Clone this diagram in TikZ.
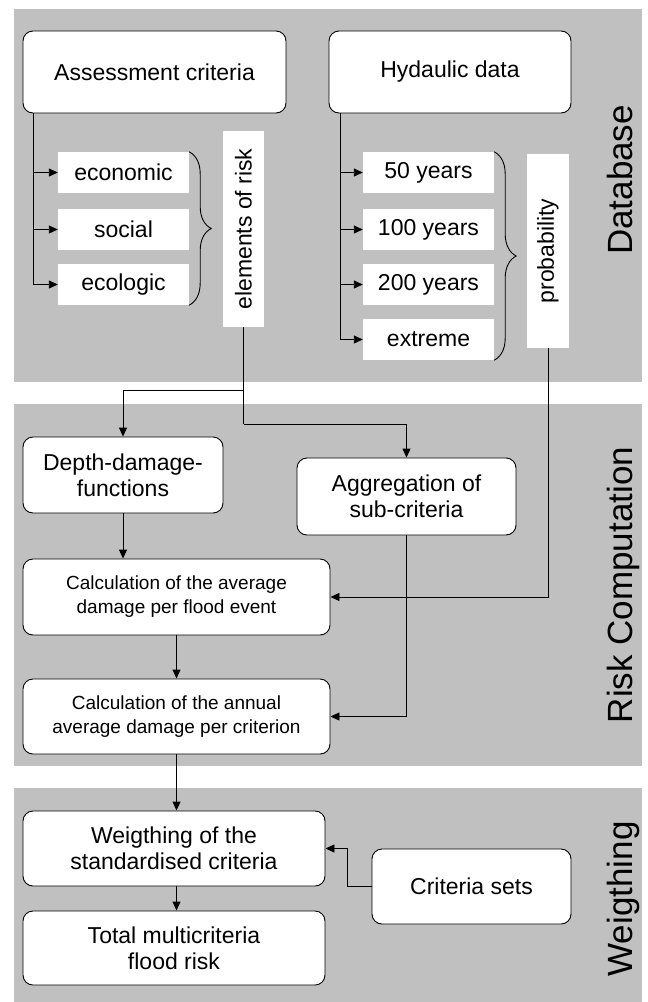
\documentclass[tikz,border=0pt]{standalone}
\usepackage{fontspec}
\setmainfont{Liberation Sans}
\usetikzlibrary{arrows.meta,decorations.pathreplacing}
\definecolor{panelgray}{RGB}{192,192,192}

\begin{document}
\begin{tikzpicture}[
  x=1pt, y=-1pt,
  block/.style={draw, line width=0.9pt, rounded corners=10pt, fill=white, align=center, inner sep=0pt, font=\fontsize{23}{26}\selectfont},
  calcblock/.style={block, font=\fontsize{19}{24}\selectfont},
  item/.style={fill=white, inner sep=0pt, minimum width=131pt, minimum height=41pt, font=\fontsize{23}{26}\selectfont},
  tag/.style={fill=white, inner sep=0pt, rotate=90, font=\fontsize{23}{26}\selectfont},
  stage/.style={rotate=90, anchor=base, font=\fontsize{35}{40}\selectfont},
  arrow/.style={-{Triangle[length=9pt,width=8pt]}, line width=0.9pt},
  brace/.style={decorate, decoration={brace, amplitude=22pt}, line width=0.9pt}
]
\useasboundingbox (0,0) rectangle (648,1002);

% Panels
\fill[panelgray] (14,9) rectangle (642,382);
\fill[panelgray] (14,404) rectangle (642,766);
\fill[panelgray] (14,788) rectangle (642,1002);

\node[stage] (db) at (632,180) {Database};
\node[stage] (rc) at (632,585) {Risk Computation};
\node[stage] (wg) at (632,899) {Weigthing};

% Database
\node[block, minimum width=263pt, minimum height=82pt] (assess) at (154.5,72) {Assessment criteria};
\node[block, minimum width=242pt, minimum height=82pt] (hydro) at (450,72) {Hydaulic data};

\foreach \name/\txt/\y in {econ/economic/172.5, social/social/229.5, ecol/ecologic/284.5}
  \node[item] (\name) at (123.5,\y) {\txt};

\foreach \name/\txt/\y in {y50/50 years/172.5, y100/100 years/229.5, y200/200 years/284.5, extreme/extreme/339.5}
  \node[item] (\name) at (428.5,\y) {\txt};

\node[tag, minimum width=196pt, minimum height=41pt] (elem) at (243.5,229) {elements of risk};
\node[tag, minimum width=194pt, minimum height=42pt] (prob) at (548,251) {probability};

\foreach \name in {econ,social,ecol}
  \draw[arrow] ([xshift=11pt]assess.south west) |- (\name.west);

\foreach \name in {y50,y100,y200,extreme}
  \draw[arrow] ([xshift=12pt]hydro.south west) |- (\name.west);

\draw[brace] (econ.north east) -- (ecol.south east);
\draw[brace] (y50.north east) -- (extreme.south east);

% Risk Computation
\node[block, minimum width=200pt, minimum height=76pt] (depth) at (123,475) {Depth-damage-\\functions};
\node[block, minimum width=219pt, minimum height=77pt] (aggr) at (406.5,496.5) {Aggregation of\\sub-criteria};
\node[calcblock, minimum width=307pt, minimum height=76pt] (avg) at (176.5,597) {Calculation of the average\\damage per flood event};
\node[calcblock, minimum width=307pt, minimum height=75pt] (annual) at (176.5,716.5) {Calculation of the annual\\average damage per criterion};

% rotated tags: west anchor is the bottom end
\coordinate (split) at (elem.west |- 0,390);
\coordinate (bend) at (elem.west |- 0,424);
\draw[line width=0.9pt] (elem.west) -- (bend);
\draw[arrow] (split) -| (depth.north);
\draw[arrow] (bend) -| (aggr.north);
\draw[arrow] (prob.west) |- (avg.east);
\draw[arrow] (aggr.south) |- (annual.east);
\draw[arrow] (depth.south) -- (depth.south |- avg.north);
\draw[arrow] (avg.south) -- (annual.north);

% Weigthing
\node[block, minimum width=302pt, minimum height=75pt] (weight) at (174,848.5) {Weigthing of the\\standardised criteria};
\node[block, minimum width=302pt, minimum height=74pt] (total) at (174,948) {Total multicriteria\\flood risk};
\node[block, minimum width=199pt, minimum height=75pt] (crit) at (471.5,886.5) {Criteria sets};

\draw[arrow] (annual.south) -- (annual.south |- weight.north);
\draw[arrow] (weight.south -| annual.south) -- (total.north -| annual.south);
\draw[arrow] (crit.west) -- ++(-24,0) |- (weight.east);

\end{tikzpicture}
\end{document}
